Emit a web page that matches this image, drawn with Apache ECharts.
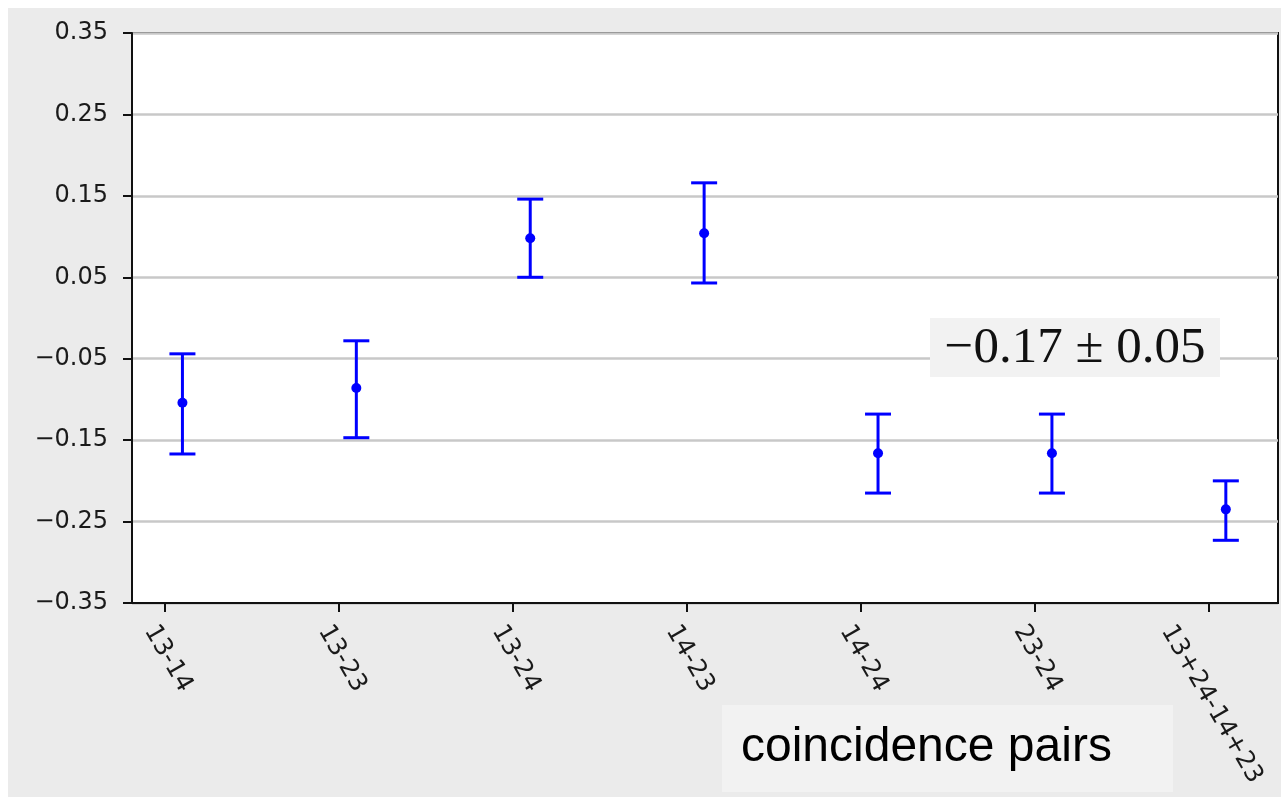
<!DOCTYPE html>
<html>
<head>
<meta charset="utf-8">
<script src="https://cdn.jsdelivr.net/npm/echarts@6/dist/echarts.min.js"></script>
<style>
  html, body { margin: 0; padding: 0; background: #fff; }
  #bg { position: absolute; left: 8px; top: 8px; width: 1273px; height: 789px; background: #ebebeb; }
  #chart { position: absolute; left: 0; top: 0; width: 1281px; height: 797px; }
</style>
</head>
<body>
<div id="bg"></div>
<div id="chart"></div>
<script>
// coincidence pair categories
const categories = ['13-14', '13-23', '13-24', '14-23', '14-24', '23-24', '13+24-14+23']
// measured values with lower / upper error bar ends
const values = [-0.104, -0.086, 0.098, 0.104, -0.166, -0.166, -0.235]
const lowerEnds = [-0.167, -0.147, 0.050, 0.043, -0.215, -0.215, -0.273]
const upperEnds = [-0.044, -0.028, 0.146, 0.166, -0.118, -0.118, -0.200]
// y tick labels
const yTicks = [-0.35, -0.25, -0.15, -0.05, 0.05, 0.15, 0.25, 0.35]
// points sit slightly right of their category tick
const pointShift = 0.1

const fmt = v => (v < 0 ? '\u2212' : '') + Math.abs(v).toFixed(2)
const catIdx = categories.map((c, i) => i)
const labelFont = '25px "DejaVu Sans"'

const chart = echarts.init(document.getElementById('chart'))
const option = {
  backgroundColor: 'transparent',
  animation: false,
  grid: {
    left: 132, top: 33, right: 3, bottom: 194,
    outerBoundsMode: 'none',
    containLabel: false,
    show: true, backgroundColor: '#fff', borderColor: '#111', borderWidth: 2
  },
  xAxis: {
    type: 'value',
    min: -0.19,
    max: 6.4,
    axisLine: { onZero: false, lineStyle: { color: '#111', width: 2 } },
    axisTick: { customValues: catIdx, length: 9, lineStyle: { color: '#111', width: 2 } },
    // labels are drawn below as rotated graphic texts, centred on each tick like matplotlib
    axisLabel: { show: false },
    splitLine: { show: false }
  },
  yAxis: {
    type: 'value',
    min: -0.35,
    max: 0.35,
    axisLine: { show: true, onZero: false, lineStyle: { color: '#111', width: 2 } },
    axisTick: { show: true, customValues: yTicks, length: 9, lineStyle: { color: '#111', width: 2 } },
    axisLabel: {
      customValues: yTicks,
      formatter: fmt,
      margin: 24,
      fontFamily: 'DejaVu Sans',
      fontSize: 24,
      color: '#1a1a1a'
    },
    splitLine: { show: true, lineStyle: { color: '#c8c8c8', width: 2.5 } }
  },
  series: [
    {
      type: 'custom',
      name: 'error',
      data: catIdx.map(i => [i + pointShift, lowerEnds[i], upperEnds[i]]),
      renderItem: (params, api) => {
        const lo = api.coord([api.value(0), api.value(1)])
        const hi = api.coord([api.value(0), api.value(2)])
        const cap = 13
        const style = { stroke: '#0000ff', lineWidth: 3 }
        return {
          type: 'group',
          children: [
            { type: 'line', shape: { x1: lo[0], y1: lo[1], x2: hi[0], y2: hi[1] }, style },
            { type: 'line', shape: { x1: lo[0] - cap, y1: lo[1], x2: lo[0] + cap, y2: lo[1] }, style },
            { type: 'line', shape: { x1: hi[0] - cap, y1: hi[1], x2: hi[0] + cap, y2: hi[1] }, style }
          ]
        }
      },
      z: 3
    },
    {
      type: 'scatter',
      name: 'value',
      data: catIdx.map(i => [i + pointShift, values[i]]),
      symbolSize: 10,
      itemStyle: { color: '#0000ff', opacity: 1 },
      z: 4
    }
  ]
}
chart.setOption(option)

const annotations = [
  {
    type: 'rect',
    shape: { x: 930, y: 318, width: 290, height: 59 },
    style: { fill: '#f2f2f2' },
    z: 10
  },
  {
    type: 'text',
    x: 1075,
    y: 349,
    style: {
      text: '\u22120.17 \u00b1 0.05',
      font: '51px "Liberation Serif"',
      fill: '#111',
      align: 'center',
      verticalAlign: 'middle'
    },
    z: 11
  },
  {
    type: 'rect',
    shape: { x: 722, y: 705, width: 451, height: 87 },
    style: { fill: '#f2f2f2' },
    z: 10
  },
  {
    type: 'text',
    x: 741,
    y: 748,
    style: {
      text: 'coincidence pairs',
      font: '48px "Liberation Sans"',
      fill: '#000',
      align: 'left',
      verticalAlign: 'middle'
    },
    z: 11
  }
]

// x tick labels rotated 60° clockwise, bounding box centred under the tick
const ctx = document.createElement('canvas').getContext('2d')
ctx.font = labelFont
const angle = Math.PI / 3
const axisY = chart.convertToPixel({ yAxisIndex: 0 }, -0.35)
const xLabels = categories.map((name, i) => {
  const w = ctx.measureText(name).width
  const h = 20
  const boxH = w * Math.sin(angle) + h * Math.cos(angle)
  return {
    type: 'text',
    x: chart.convertToPixel({ xAxisIndex: 0 }, i) + 3,
    y: axisY + 19 + boxH / 2,
    rotation: -angle,
    style: {
      text: name,
      font: labelFont,
      fill: '#1a1a1a',
      align: 'center',
      verticalAlign: 'middle'
    },
    z: 5
  }
})

chart.setOption({ graphic: annotations.concat(xLabels) })
</script>
</body>
</html>
